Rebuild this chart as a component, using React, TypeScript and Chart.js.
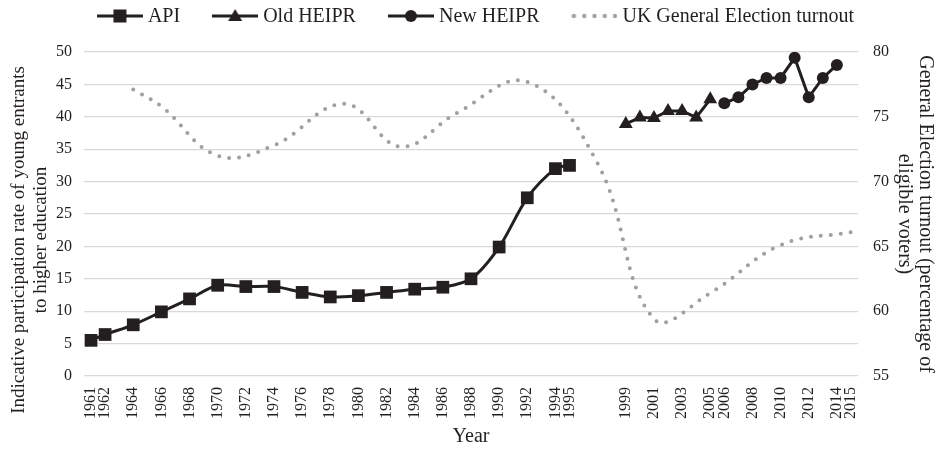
import React, { useEffect, useRef } from "react";
import { Chart, registerables } from "chart.js";

Chart.register(...registerables);

const apiYears = [1961, 1962, 1964, 1966, 1968, 1970, 1972, 1974, 1976, 1978, 1980, 1982, 1984, 1986, 1988, 1990, 1992, 1994, 1995];
const apiValues = [5.5, 6.4, 7.9, 9.9, 11.9, 14.0, 13.8, 13.8, 12.9, 12.2, 12.4, 12.9, 13.4, 13.7, 15.0, 19.9, 27.5, 32.0, 32.5];

const oldYears = [1999, 2000, 2001, 2002, 2003, 2004, 2005];
const oldValues = [38.9, 39.9, 39.8, 40.9, 40.9, 39.9, 42.7];

const newYears = [2006, 2007, 2008, 2009, 2010, 2011, 2012, 2013, 2014];
const newValues = [42.1, 43.0, 45.0, 46.0, 46.0, 49.1, 43.0, 46.0, 48.0];

const turnoutYears = [1964, 1966, 1970, 1974, 1979, 1983, 1987, 1992, 1997, 2001, 2005, 2010, 2015];
const turnoutValues = [77.1, 75.8, 72.0, 72.8, 76.0, 72.7, 75.3, 77.7, 71.4, 59.4, 61.4, 65.1, 66.1];

const xTickYears = [1961, 1962, 1964, 1966, 1968, 1970, 1972, 1974, 1976, 1978, 1980, 1982, 1984, 1986, 1988, 1990, 1992, 1994, 1995, 1999, 2001, 2003, 2005, 2006, 2008, 2010, 2012, 2014, 2015];

const seriesLabels = ["API", "Old HEIPR", "New HEIPR", "UK General Election turnout"];
const legendKinds = ["rect", "triangle", "circle", "dots"];
const leftTitleLines = ["Indicative participation rate of young entrants", "to higher education"];
const rightTitleLines = ["General Election turnout (percentage of", "eligible voters)"];

const DARK = "#231f20";
const GREY = "#a0a0a0";
const FONT = "'Liberation Serif', 'Times New Roman', serif";

function pts(xs: number[], ys: number[]) {
  return xs.map((x, i) => ({ x, y: ys[i] }));
}

const ICON_W = 46;
const ICON_H = 18;

function legendIcon(kind: string): HTMLCanvasElement {
  const c = document.createElement("canvas");
  c.width = ICON_W;
  c.height = ICON_H;
  const ctx = c.getContext("2d")!;
  const cy = ICON_H / 2;
  if (kind === "dots") {
    ctx.fillStyle = GREY;
    for (let i = 0; i < 5; i++) {
      ctx.beginPath();
      ctx.arc(2.5 + i * 10.25, cy, 2.2, 0, Math.PI * 2);
      ctx.fill();
    }
    return c;
  }
  ctx.strokeStyle = DARK;
  ctx.lineWidth = 3;
  ctx.beginPath();
  ctx.moveTo(0, cy);
  ctx.lineTo(ICON_W, cy);
  ctx.stroke();
  ctx.fillStyle = DARK;
  const cx = ICON_W / 2;
  if (kind === "rect") {
    ctx.fillRect(cx - 6.5, cy - 6.5, 13, 13);
  } else if (kind === "triangle") {
    ctx.beginPath();
    ctx.moveTo(cx, cy - 7);
    ctx.lineTo(cx + 7, cy + 5);
    ctx.lineTo(cx - 7, cy + 5);
    ctx.closePath();
    ctx.fill();
  } else {
    ctx.beginPath();
    ctx.arc(cx, cy, 6, 0, Math.PI * 2);
    ctx.fill();
  }
  return c;
}

export default function App() {
  const ref = useRef<HTMLCanvasElement>(null);

  useEffect(() => {
    if (!ref.current) return;
    const icons = legendKinds.map(legendIcon);

    const decorPlugin = {
      id: "decor",
      afterDraw(chart: any) {
        const ctx = chart.ctx;
        ctx.save();
        // legend
        ctx.font = `20px ${FONT}`;
        ctx.fillStyle = DARK;
        ctx.textBaseline = "middle";
        ctx.textAlign = "left";
        const textGap = 5;
        const itemGap = 32;
        const widths = seriesLabels.map((t) => ICON_W + textGap + ctx.measureText(t).width);
        const total = widths.reduce((a, b) => a + b, 0) + itemGap * (seriesLabels.length - 1);
        let x = (chart.width - total) / 2 + 7;
        const cy = 16;
        seriesLabels.forEach((t, i) => {
          ctx.drawImage(icons[i], x, cy - ICON_H / 2);
          ctx.fillText(t, x + ICON_W + textGap, cy + 1);
          x += widths[i] + itemGap;
        });
        // left axis title
        ctx.font = `19px ${FONT}`;
        ctx.textAlign = "center";
        const lx = [19, 41];
        leftTitleLines.forEach((t, i) => {
          ctx.save();
          ctx.translate(lx[i], 240);
          ctx.rotate(-Math.PI / 2);
          ctx.fillText(t, 0, 0);
          ctx.restore();
        });
        ctx.restore();
      },
    };

    const chart = new Chart(ref.current, {
      type: "line",
      data: {
        datasets: [
          {
            label: seriesLabels[0],
            data: pts(apiYears, apiValues),
            borderColor: DARK,
            backgroundColor: DARK,
            borderWidth: 3,
            pointStyle: "rect",
            pointRadius: 9,
            pointBorderWidth: 0,
            yAxisID: "y",
            tension: 0.3,
          },
          {
            label: seriesLabels[1],
            data: pts(oldYears, oldValues),
            borderColor: DARK,
            backgroundColor: DARK,
            borderWidth: 3,
            pointStyle: "triangle",
            pointRadius: 8,
            pointBorderWidth: 0,
            yAxisID: "y",
            tension: 0,
          },
          {
            label: seriesLabels[2],
            data: pts(newYears, newValues),
            borderColor: DARK,
            backgroundColor: DARK,
            borderWidth: 3,
            pointStyle: "circle",
            pointRadius: 6,
            pointBorderWidth: 0,
            yAxisID: "y",
            tension: 0,
          },
          {
            label: seriesLabels[3],
            data: pts(turnoutYears, turnoutValues),
            borderColor: GREY,
            backgroundColor: GREY,
            borderWidth: 4,
            borderDash: [0, 10],
            borderCapStyle: "round",
            pointRadius: 0,
            yAxisID: "y2",
            tension: 0.4,
          },
        ],
      },
      options: {
        animation: false,
        responsive: true,
        maintainAspectRatio: false,
        layout: { padding: { left: 0, right: 0, top: 52, bottom: 0 } },
        font: { family: FONT },
        plugins: {
          tooltip: { enabled: false },
          legend: { display: false },
        },
        scales: {
          x: {
            type: "linear",
            min: 1960.5,
            max: 2015.5,
            afterBuildTicks: (scale: any) => {
              scale.ticks = xTickYears.map((v) => ({ value: v }));
            },
            afterFit: (scale: any) => {
              scale.height = 73;
            },
            ticks: {
              autoSkip: false,
              minRotation: 90,
              maxRotation: 90,
              padding: 11,
              color: DARK,
              font: { family: FONT, size: 16 },
              callback: (v: any) => String(v),
            },
            grid: { display: false, drawTicks: false },
            border: { display: false },
            title: {
              display: true,
              text: "Year",
              color: DARK,
              font: { family: FONT, size: 20 },
              padding: { top: 0, bottom: 0 },
            },
          },
          y: {
            type: "linear",
            position: "left",
            min: 0,
            max: 50,
            afterFit: (scale: any) => {
              scale.width = 84;
            },
            ticks: {
              stepSize: 5,
              padding: 12,
              color: DARK,
              font: { family: FONT, size: 16 },
            },
            grid: { color: "#d9d9d9", lineWidth: 1.3, drawTicks: false },
            border: { display: false },
            title: { display: false },
          },
          y2: {
            type: "linear",
            position: "right",
            min: 55,
            max: 80,
            afterFit: (scale: any) => {
              scale.width = 79;
            },
            ticks: {
              stepSize: 5,
              padding: 15,
              color: DARK,
              font: { family: FONT, size: 16 },
            },
            grid: { display: false, drawTicks: false },
            border: { display: false },
            title: {
              display: true,
              text: rightTitleLines,
              color: DARK,
              font: { family: FONT, size: 20, lineHeight: 1.05 },
              padding: { top: 1, bottom: 0 },
            },
          },
        },
      },
      plugins: [decorPlugin],
    } as any);

    return () => chart.destroy();
  }, []);

  return (
    <div style={{ position: "fixed", left: 0, top: 0, width: 937, height: 449, background: "#fff" }}>
      <canvas ref={ref} />
    </div>
  );
}
